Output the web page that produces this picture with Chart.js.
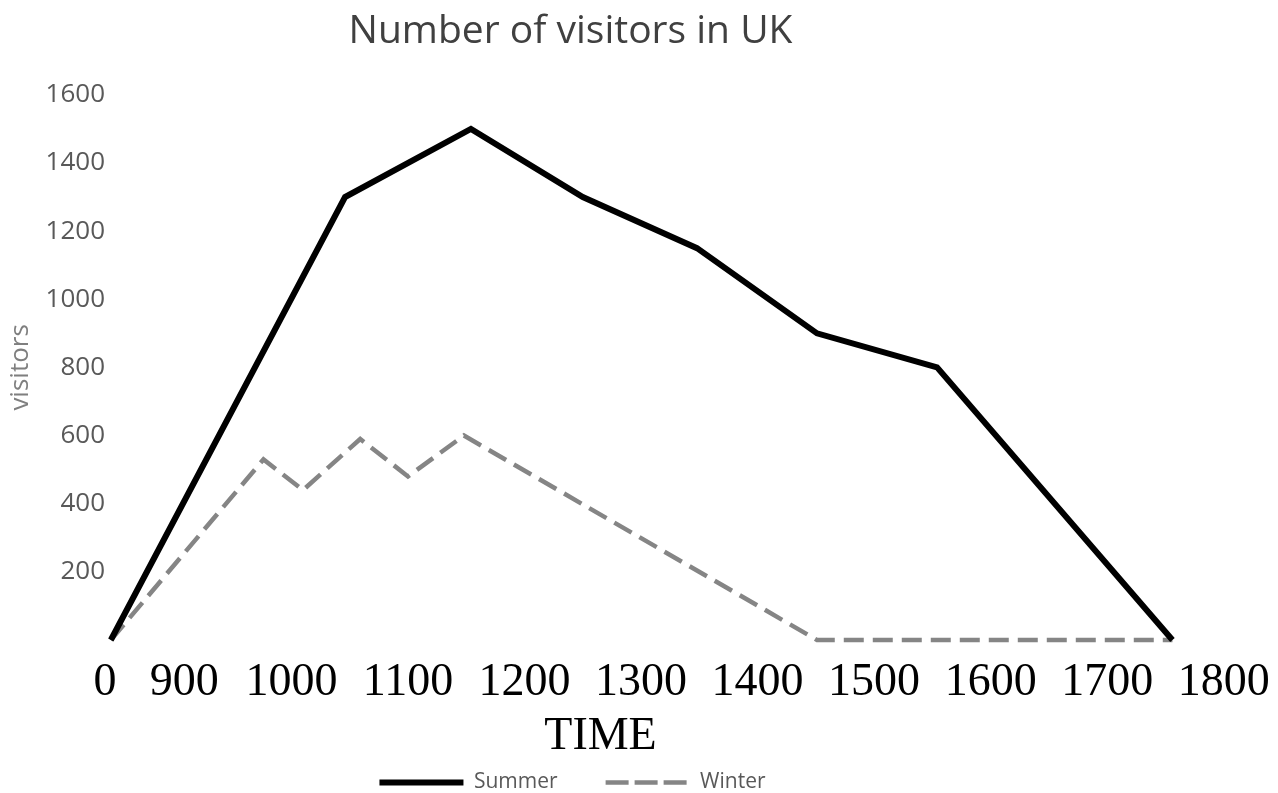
<!DOCTYPE html>
<html>
<head>
<meta charset="utf-8">
<title>Number of visitors in UK</title>
<script src="https://cdn.jsdelivr.net/npm/chart.js@4.4.1/dist/chart.umd.min.js"></script>
<style>
    html, body { margin: 0; padding: 0; background: #ffffff; }
    #wrap { width: 1278px; height: 793px; }
</style>
</head>
<body>
<div id="wrap"><canvas id="visitorsChart"></canvas></div>
<script>
// positions along the time axis (the printed labels are not evenly spaced)
let tickPos = [840, 908, 1000, 1100, 1200, 1300, 1400, 1500, 1600, 1700, 1800];
let tickText = ["0", "900", "1000", "1100", "1200", "1300", "1400", "1500", "1600", "1700", "1800"];

let summerX = [845, 1046, 1154, 1250, 1348, 1451, 1554, 1756];
let summerY = [0, 1300, 1500, 1300, 1150, 900, 800, 0];

let winterX = [845, 976, 1010, 1059, 1100, 1148, 1451, 1756];
let winterY = [0, 530, 440, 590, 480, 600, 0, 0];

let seriesNames = ["Summer", "Winter"];

function toPoints(xs, ys) {
    return xs.map((x, i) => ({ x: x, y: ys[i] }));
}

// title, legend and the TIME label sit left of centre in the original
const nudgeBlocks = {
    id: "nudgeBlocks",
    afterLayout(chart) {
        if (chart.titleBlock) {
            chart.titleBlock.left -= 66;
            chart.titleBlock.right -= 66;
        }
        if (chart.legend) {
            chart.legend.left -= 64;
            chart.legend.right -= 64;
            chart.legend.top += 10;
            chart.legend.bottom += 10;
        }
        let xScale = chart.scales.x;
        if (xScale && !xScale._titleWrapped) {
            let origDrawTitle = xScale.drawTitle;
            xScale.drawTitle = function () {
                let l = this.left, r = this.right;
                this.left -= 86;
                this.right -= 86;
                origDrawTitle.call(this);
                this.left = l;
                this.right = r;
            };
            xScale._titleWrapped = true;
        }
    }
};

let ctx = document.getElementById("visitorsChart").getContext("2d");
new Chart(ctx, {
    type: "line",
    data: {
        datasets: [
            {
                label: seriesNames[0],
                data: toPoints(summerX, summerY),
                borderColor: "#000000",
                backgroundColor: "#000000",
                borderWidth: 6,
                pointRadius: 0,
                tension: 0,
                clip: false
            },
            {
                label: seriesNames[1],
                data: toPoints(winterX, winterY),
                borderColor: "#858585",
                backgroundColor: "#858585",
                borderWidth: 4.5,
                borderDash: [20, 9],
                pointRadius: 0,
                tension: 0,
                clip: false
            }
        ]
    },
    options: {
        responsive: true,
        maintainAspectRatio: false,
        animation: false,
        layout: { padding: { left: 5, right: 10, top: 0, bottom: 0 } },
        plugins: {
            title: {
                display: true,
                text: "Number of visitors in UK",
                color: "#404040",
                font: { family: "Open Sans", size: 39, weight: "normal" },
                padding: { top: 8, bottom: 40 }
            },
            legend: {
                position: "bottom",
                labels: {
                    boxWidth: 84,
                    boxHeight: 0,
                    padding: 6,
                    color: "#595959",
                    font: { family: "Open Sans", size: 21 },
                    generateLabels: (chart) => {
                        let items = Chart.defaults.plugins.legend.labels.generateLabels(chart);
                        items[0].text = items[0].text + "\u2003\u2003";
                        return items;
                    }
                }
            },
            tooltip: { enabled: false }
        },
        scales: {
            x: {
                type: "linear",
                min: 840,
                max: 1838,
                grid: { display: false, drawTicks: false },
                border: { display: false },
                afterBuildTicks: (scale) => {
                    scale.ticks = tickPos.map(v => ({ value: v }));
                },
                afterFit: (scale) => {
                    scale.paddingLeft = 0;
                    scale.paddingRight = 0;
                    scale.height = 116;
                },
                ticks: {
                    autoSkip: false,
                    maxRotation: 0,
                    padding: 20,
                    color: "#000000",
                    font: { family: "Liberation Serif", size: 46, lineHeight: 1 },
                    callback: (value, index) => tickText[index]
                },
                title: {
                    display: true,
                    text: "TIME",
                    color: "#000000",
                    font: { family: "Liberation Serif", size: 46, lineHeight: 0.85 },
                    padding: { top: 0, bottom: 0 }
                }
            },
            y: {
                min: 0,
                max: 1600,
                grid: { display: false, drawTicks: false },
                border: { display: false },
                afterFit: (scale) => {
                    scale.width = 100;
                    scale.paddingTop = 0;
                    scale.paddingBottom = 0;
                },
                ticks: {
                    stepSize: 200,
                    padding: 0,
                    color: "#595959",
                    font: { family: "Open Sans", size: 26 },
                    callback: (value) => value === 0 ? "" : value
                },
                title: {
                    display: true,
                    text: "visitors",
                    color: "#7f7f7f",
                    font: { family: "Open Sans", size: 26 },
                    padding: { top: 0, bottom: 0 }
                }
            }
        }
    },
    plugins: [nudgeBlocks]
});
</script>
</body>
</html>
